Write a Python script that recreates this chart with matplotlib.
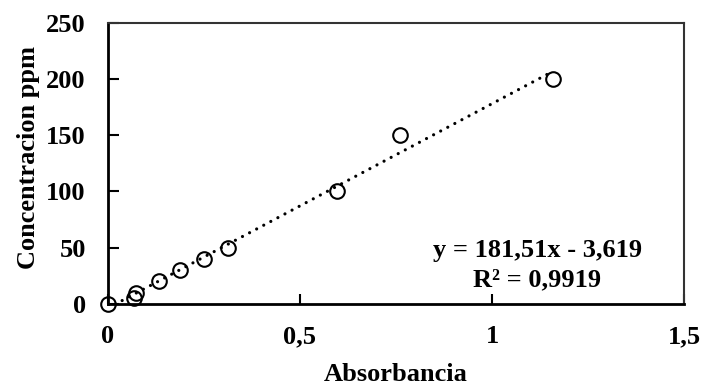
import matplotlib
matplotlib.use('Agg')
import matplotlib.pyplot as plt
import numpy as np

# calibration standards
absorbancia = [0.0, 0.068, 0.073, 0.133, 0.187, 0.250, 0.312, 0.596, 0.760, 1.158]
concentracion = [0, 5, 10, 20, 30, 40, 50, 100, 150, 200]

# linear fit reported for the curve
pendiente = 181.51
intercepto = -3.619
r2 = 0.9919

x_ticks = [0, 0.5, 1, 1.5]
x_tick_labels = ['0', '0,5', '1', '1,5']
y_ticks = [0, 50, 100, 150, 200, 250]

plt.rcParams['font.family'] = ['Liberation Serif', 'DejaVu Serif']
plt.rcParams['font.weight'] = 'bold'

fig = plt.figure(figsize=(7.04, 3.9), dpi=100)
ax = fig.add_axes([0.1534, 0.2205, 0.8182, 0.7218])

# trend line over the range of the standards
xf = np.linspace(min(absorbancia), max(absorbancia), 200)
ax.plot(xf, pendiente * xf + intercepto, color='black', lw=2.3,
        linestyle=(0, (0.01, 2.5)), dash_capstyle='round', zorder=2)

ax.plot(absorbancia, concentracion, 'o', ms=10.5, mfc='none', mec='black',
        mew=1.5, clip_on=False, zorder=3)

ax.set_xlim(0, 1.5)
ax.set_ylim(0, 250)
ax.set_xticks(x_ticks)
ax.set_xticklabels(x_tick_labels)
ax.set_yticks(y_ticks)

ax.tick_params(axis='both', direction='in', labelsize=19, width=1.5, color='black')
ax.tick_params(axis='x', length=7, pad=15)
ax.tick_params(axis='y', length=8, pad=16)

for side in ['left', 'bottom']:
    ax.spines[side].set_linewidth(2)
    ax.spines[side].set_color('black')
for side in ['top', 'right']:
    ax.spines[side].set_linewidth(1.5)
    ax.spines[side].set_color('#333333')

ax.set_xlabel('Absorbancia', fontsize=19, fontweight='bold', labelpad=11)
ax.set_ylabel('Concentracion ppm', fontsize=19, fontweight='bold')
ax.yaxis.set_label_coords(-0.118, 0.52)

eq = 'y = {}x - {}'.format(str(pendiente).replace('.', ','),
                            str(-intercepto).replace('.', ','))
r2_txt = 'R\u00b2 = {}'.format(str(r2).replace('.', ','))
ax.text(0.745, 0.19, eq, transform=ax.transAxes, ha='center', va='center',
        fontsize=19, fontweight='bold')
ax.text(0.745, 0.085, r2_txt, transform=ax.transAxes, ha='center', va='center',
        fontsize=19, fontweight='bold')

fig.savefig('out.png', dpi=100)
